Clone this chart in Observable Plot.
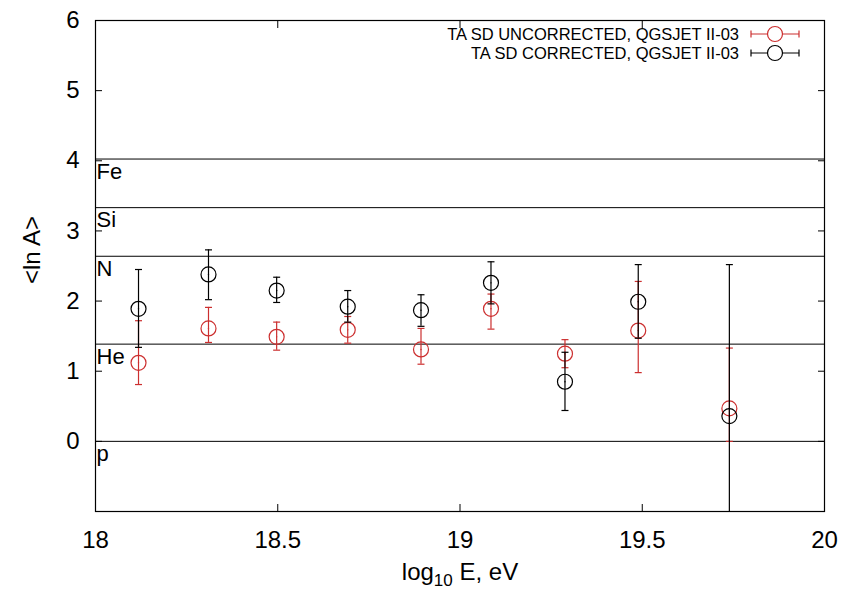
<!DOCTYPE html>
<html>
<head>
<meta charset="utf-8">
<script src="https://cdn.jsdelivr.net/npm/d3@7"></script>
<script src="https://cdn.jsdelivr.net/npm/@observablehq/plot@0.6"></script>
<style>
  html, body { margin: 0; padding: 0; background: #fff; }
  #chart { width: 845px; height: 589px; }
</style>
</head>
<body>
<div id="chart"></div>
<script>
// ---- data ----
const energies = [18.118, 18.31, 18.497, 18.692, 18.893, 19.085, 19.288, 19.489, 19.739];
const uncorrected = [1.12, 1.61, 1.49, 1.59, 1.31, 1.89, 1.25, 1.58, 0.47];
const uncorrectedLow = [0.81, 1.41, 1.30, 1.40, 1.10, 1.60, 1.05, 0.98, 0.0];
const uncorrectedHigh = [1.72, 1.91, 1.70, 1.78, 1.61, 2.10, 1.45, 2.28, 1.33];
const corrected = [1.89, 2.38, 2.15, 1.92, 1.87, 2.26, 0.85, 1.99, 0.36];
const correctedLow = [1.34, 2.02, 1.98, 1.70, 1.64, 1.96, 0.44, 1.47, -1.60];
const correctedHigh = [2.45, 2.73, 2.34, 2.15, 2.09, 2.56, 1.27, 2.52, 2.52];
const elements = ["p", "He", "N", "Si", "Fe"];
const elementLnA = [0, 1.386, 2.639, 3.332, 4.025];
const xTicks = [18, 18.5, 19, 19.5, 20];
const yTicks = [0, 1, 2, 3, 4, 5, 6];
const seriesNames = ["TA SD UNCORRECTED, QGSJET II-03", "TA SD CORRECTED, QGSJET II-03"];

const RED = "#cc2f2f";
const BLACK = "#000000";
const FONT = "Liberation Sans, Arial, Helvetica, sans-serif";

const unc = energies.map((x, i) => ({x, y: uncorrected[i], lo: uncorrectedLow[i], hi: uncorrectedHigh[i]}));
const cor = energies.map((x, i) => ({x, y: corrected[i], lo: correctedLow[i], hi: correctedHigh[i]}));
const elems = elements.map((name, i) => ({name, v: elementLnA[i]}));

const capSymbol = {
  draw(context, size) {
    context.moveTo(-3.5, 0);
    context.lineTo(3.5, 0);
  }
};

function seriesMarks(data, color) {
  return [
    Plot.ruleX(data, {x: "x", y1: "lo", y2: "hi", stroke: color, strokeWidth: 1.2, clip: true}),
    Plot.dot(data, {x: "x", y: "lo", symbol: capSymbol, stroke: color, strokeWidth: 1.2, clip: true}),
    Plot.dot(data, {x: "x", y: "hi", symbol: capSymbol, stroke: color, strokeWidth: 1.2, clip: true}),
    Plot.dot(data, {x: "x", y: "y", r: 7.5, stroke: color, fill: "none", strokeWidth: 1.2}),
    Plot.dot(data, {x: "x", y: "y", r: 0.7, fill: color, stroke: "none"})
  ];
}

const plot = Plot.plot({
  width: 845,
  height: 589,
  marginLeft: 95,
  marginRight: 21,
  marginTop: 20,
  marginBottom: 78,
  style: {fontFamily: FONT, color: "#000", background: "#fff", overflow: "visible"},
  x: {domain: [18, 20], axis: null},
  y: {domain: [-1, 6], axis: null},
  marks: [
    Plot.ruleY(elems, {y: "v", stroke: "#000", strokeWidth: 1}),
    Plot.text(elems, {x: 18, y: "v", text: "name", textAnchor: "start", lineAnchor: "top", dx: 1, dy: 4, fontSize: 22, fill: "#000"}),
    ...seriesMarks(unc, RED),
    ...seriesMarks(cor, BLACK),
    // inward ticks on all four sides
    Plot.axisY(yTicks, {anchor: "left", tickSize: -7, tickFormat: () => "", label: null}),
    Plot.axisY(yTicks, {anchor: "right", tickSize: -7, tickFormat: () => "", label: null}),
    Plot.axisX(xTicks, {anchor: "bottom", tickSize: -7, tickFormat: () => "", label: null}),
    Plot.axisX(xTicks, {anchor: "top", tickSize: -7, tickFormat: () => "", label: null}),
    // tick labels
    Plot.axisY(yTicks, {anchor: "left", tickSize: 0, tickPadding: 16, fontSize: 24, label: null, tickFormat: d => String(d)}),
    Plot.axisX(xTicks, {anchor: "bottom", tickSize: 0, tickPadding: 19, fontSize: 24, label: null, tickFormat: d => String(d)}),
    Plot.frame({stroke: "#000", strokeWidth: 1.2})
  ]
});

document.getElementById("chart").appendChild(plot);

// axis titles and legend
const svg = d3.select(plot);
svg.append("text")
  .attr("transform", "translate(40,250) rotate(-90)")
  .attr("text-anchor", "middle")
  .attr("font-family", FONT)
  .attr("font-size", 24)
  .attr("fill", "#000")
  .text("<ln A>");

const xl = svg.append("text")
  .attr("x", 460).attr("y", 580)
  .attr("text-anchor", "middle")
  .attr("font-family", FONT)
  .attr("font-size", 24)
  .attr("fill", "#000");
xl.append("tspan").text("log");
xl.append("tspan").attr("font-size", 17).attr("dy", 6).text("10");
xl.append("tspan").attr("dy", -6).text(" E, eV");

const legend = svg.append("g");
[[seriesNames[0], RED, 34], [seriesNames[1], BLACK, 53]].forEach(([name, color, y]) => {
  legend.append("text")
    .attr("x", 739).attr("y", y).attr("dy", "0.36em")
    .attr("text-anchor", "end")
    .attr("font-family", FONT)
    .attr("font-size", 16.5)
    .attr("fill", "#000")
    .text(name);
  const g = legend.append("g").attr("stroke", color).attr("stroke-width", 1.2).attr("fill", "none");
  g.append("line").attr("x1", 751).attr("x2", 799).attr("y1", y).attr("y2", y);
  g.append("line").attr("x1", 751).attr("x2", 751).attr("y1", y - 3.5).attr("y2", y + 3.5);
  g.append("line").attr("x1", 799).attr("x2", 799).attr("y1", y - 3.5).attr("y2", y + 3.5);
  g.append("circle").attr("cx", 775).attr("cy", y).attr("r", 7.5).attr("fill", "#fff");
});
</script>
</body>
</html>
